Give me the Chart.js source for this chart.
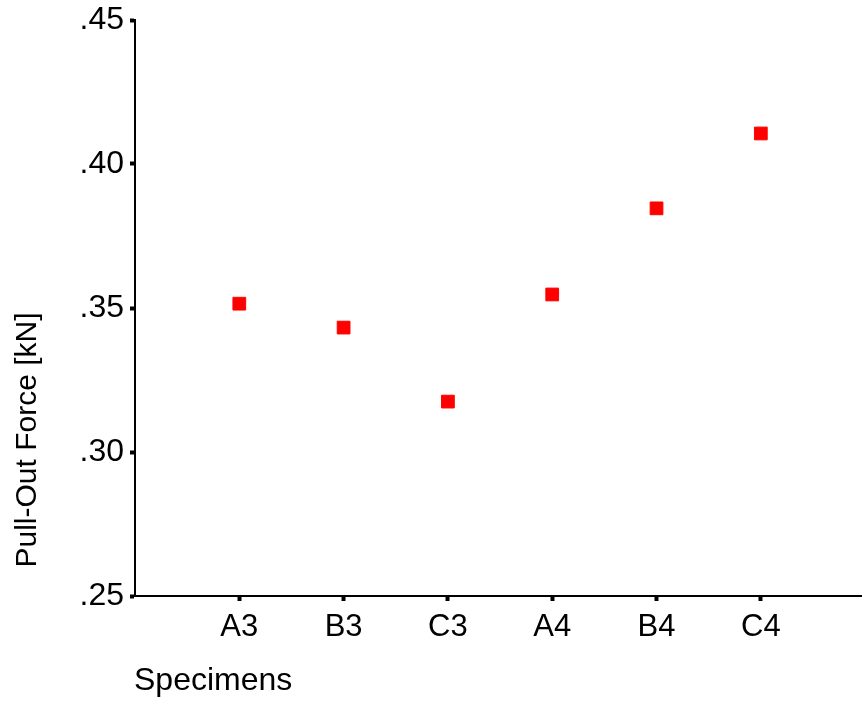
<!DOCTYPE html>
<html><head><meta charset="utf-8">
<script src="https://cdn.jsdelivr.net/npm/chart.js@4"></script>
<style>html,body{margin:0;padding:0;background:#fff}#wrap{width:862px;height:724px}</style>
</head><body><div id="wrap"><canvas id="c" width="862" height="724"></canvas></div>
<script>
const categories = ['A3', 'B3', 'C3', 'A4', 'B4', 'C4'];
const pullOutForce = [0.3515, 0.3432, 0.3175, 0.3547, 0.3846, 0.4106];
const yTicks = [0.25, 0.30, 0.35, 0.40, 0.45];
const xTitle = 'Specimens';
const yTitle = 'Pull-Out Force [kN]';

const FONT = '"Liberation Sans", Arial, sans-serif';

const titles = {
  id: 'titles',
  afterDraw(chart) {
    const ctx = chart.ctx;
    ctx.save();
    ctx.fillStyle = '#000';
    ctx.font = '32px ' + FONT;
    ctx.textBaseline = 'middle';
    ctx.textAlign = 'left';
    ctx.fillText(xTitle, 134, 681);
    ctx.font = '30px ' + FONT;
    ctx.translate(28, 440);
    ctx.rotate(-Math.PI / 2);
    ctx.textAlign = 'center';
    ctx.fillText(yTitle, 0, 0);
    ctx.restore();
  }
};

new Chart(document.getElementById('c'), {
  type: 'scatter',
  data: {
    datasets: [{
      data: pullOutForce.map((v, i) => ({x: i + 1, y: v})),
      pointStyle: 'rect',
      pointRadius: 9,
      pointBorderWidth: 1,
      backgroundColor: '#ff0000',
      borderColor: '#ff0000'
    }]
  },
  options: {
    responsive: false,
    animation: false,
    layout: {autoPadding: false, padding: {top: 20, right: 0, left: 0, bottom: 0}},
    plugins: {legend: {display: false}, tooltip: {enabled: false}},
    scales: {
      x: {
        type: 'linear',
        min: 0,
        max: 6.97,
        afterFit(s) { s.height = 128; s.paddingRight = 0; s.paddingLeft = 0; },
        afterBuildTicks(s) { s.ticks = [1,2,3,4,5,6].map(v => ({value: v})); },
        ticks: {
          color: '#000',
          font: {family: FONT, size: 31},
          padding: 8,
          maxRotation: 0,
          autoSkip: false,
          callback: (v) => categories[v - 1] || ''
        },
        grid: {
          drawOnChartArea: false,
          tickLength: 5,
          tickWidth: 4,
          tickColor: '#000'
        },
        border: {color: '#000', width: 2}
      },
      y: {
        min: 0.25,
        max: 0.45,
        afterFit(s) { s.width = 135; s.paddingTop = 0; s.paddingBottom = 0; },
        afterBuildTicks(s) { s.ticks = yTicks.map(v => ({value: v})); },
        ticks: {
          color: '#000',
          font: {family: FONT, size: 32},
          padding: 6,
          callback: (v) => v.toFixed(2).replace(/^0/, '')
        },
        grid: {drawOnChartArea: false, tickLength: 5, tickWidth: 4, tickColor: '#000'},
        border: {color: '#000', width: 2}
      }
    }
  },
  plugins: [titles]
});
</script></body></html>
